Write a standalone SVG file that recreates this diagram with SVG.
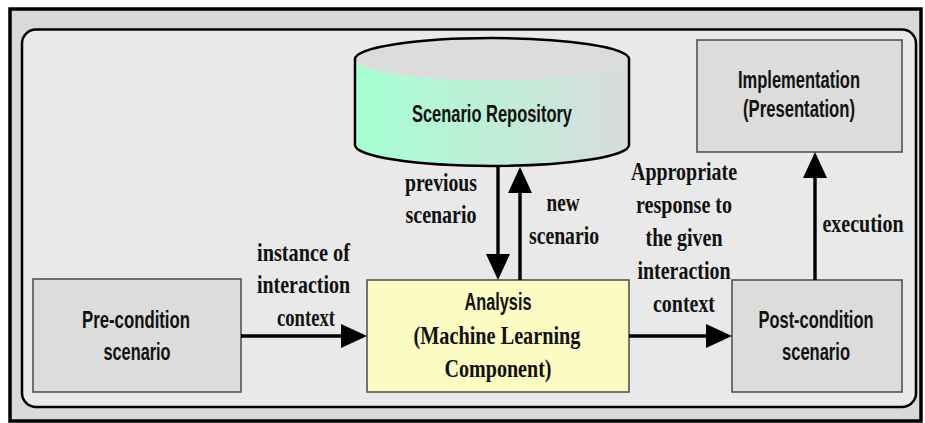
<svg xmlns="http://www.w3.org/2000/svg" width="925" height="423" viewBox="0 0 925 423">
<defs>
<style>
.box{stroke:#4a4a4a;stroke-width:1.5}
.gray{fill:#dcdcdc}
.sans{font-family:"Liberation Sans Narrow","Liberation Sans",Arial,sans-serif;font-weight:bold;font-size:23px;fill:#111;text-anchor:middle}
.serif{font-family:"Liberation Serif","Times New Roman",serif;font-weight:bold;font-size:26px;fill:#111;text-anchor:middle}
.conn{stroke:#000;stroke-width:3.4;fill:none;marker-end:url(#ah)}
</style>
<marker id="ah" viewBox="0 0 26 24" refX="16" refY="12" markerWidth="26" markerHeight="24" markerUnits="userSpaceOnUse" orient="auto">
<path d="M0,0 L26,12 L0,24 Z" fill="#000"/>
</marker>
<linearGradient id="cyl" x1="0" y1="0" x2="1" y2="0">
<stop offset="0" stop-color="#a6ffd2"/>
<stop offset="1" stop-color="#d8dcdc"/>
</linearGradient>
</defs>

<g id="frame">
<rect x="10" y="9" width="911" height="412" fill="#d9d9d9" stroke="#000" stroke-width="3.5"/>
<rect x="22" y="29.5" width="894" height="377.5" rx="14" ry="14" fill="#e9e9e9" stroke="#000" stroke-width="2.5"/>
</g>

<g id="repository">
<path d="M355,59 A137,21 0 0 0 629,59 L629,145 A137,21 0 0 1 355,145 Z" fill="url(#cyl)"/>
<ellipse cx="492" cy="59" rx="137" ry="21" fill="#dcdcdc"/>
<path d="M355,145 L355,59 A137,21 0 0 1 629,59 L629,145 A137,21 0 0 1 355,145" fill="none" stroke="#000" stroke-width="2.5"/>
<text class="sans" x="492" y="122" textLength="160" lengthAdjust="spacingAndGlyphs">Scenario Repository</text>
</g>

<g id="implementation">
<rect class="box gray" x="697" y="40" width="205" height="112"/>
<text class="sans" x="799" y="88" textLength="122" lengthAdjust="spacingAndGlyphs">Implementation</text>
<text class="sans" x="799" y="117" textLength="112" lengthAdjust="spacingAndGlyphs">(Presentation)</text>
</g>

<g id="precondition">
<rect class="box gray" x="33" y="279" width="208" height="113"/>
<text class="sans" x="136" y="328" textLength="108" lengthAdjust="spacingAndGlyphs">Pre-condition</text>
<text class="sans" x="137" y="360" textLength="67" lengthAdjust="spacingAndGlyphs">scenario</text>
</g>

<g id="analysis">
<rect class="box" x="367" y="280" width="262" height="112" fill="#fbfbc2"/>
<text class="sans" x="498" y="310" textLength="67" lengthAdjust="spacingAndGlyphs">Analysis</text>
<text class="serif" x="497" y="344" textLength="167" lengthAdjust="spacingAndGlyphs">(Machine Learning</text>
<text class="serif" x="498" y="377" textLength="107" lengthAdjust="spacingAndGlyphs">Component)</text>
</g>

<g id="postcondition">
<rect class="box gray" x="732" y="280" width="170" height="112"/>
<text class="sans" x="816" y="328" textLength="115" lengthAdjust="spacingAndGlyphs">Post-condition</text>
<text class="sans" x="816" y="360" textLength="68" lengthAdjust="spacingAndGlyphs">scenario</text>
</g>

<g id="connectors">
<path class="conn" d="M241,336 L357,336"/>
<path class="conn" d="M629,336 L722,336"/>
<path class="conn" d="M498,166 L498,270"/>
<path class="conn" d="M520,280 L520,177"/>
<path class="conn" d="M815,280 L815,162"/>
</g>

<g id="labels">
<text class="serif" x="303.5" y="261" textLength="93" lengthAdjust="spacingAndGlyphs">instance of</text>
<text class="serif" x="303.5" y="293" textLength="93" lengthAdjust="spacingAndGlyphs">interaction</text>
<text class="serif" x="306" y="326" textLength="58" lengthAdjust="spacingAndGlyphs">context</text>

<text class="serif" x="441" y="191" textLength="72" lengthAdjust="spacingAndGlyphs">previous</text>
<text class="serif" x="441" y="223" textLength="71" lengthAdjust="spacingAndGlyphs">scenario</text>

<text class="serif" x="563" y="211" textLength="33" lengthAdjust="spacingAndGlyphs">new</text>
<text class="serif" x="564" y="244" textLength="70" lengthAdjust="spacingAndGlyphs">scenario</text>

<text class="serif" x="684" y="180" textLength="106" lengthAdjust="spacingAndGlyphs">Appropriate</text>
<text class="serif" x="684" y="213" textLength="96" lengthAdjust="spacingAndGlyphs">response to</text>
<text class="serif" x="684" y="246" textLength="77" lengthAdjust="spacingAndGlyphs">the given</text>
<text class="serif" x="684" y="279" textLength="93" lengthAdjust="spacingAndGlyphs">interaction</text>
<text class="serif" x="684" y="312" textLength="62" lengthAdjust="spacingAndGlyphs">context</text>

<text class="serif" x="863" y="232" textLength="81" lengthAdjust="spacingAndGlyphs">execution</text>
</g>
</svg>
